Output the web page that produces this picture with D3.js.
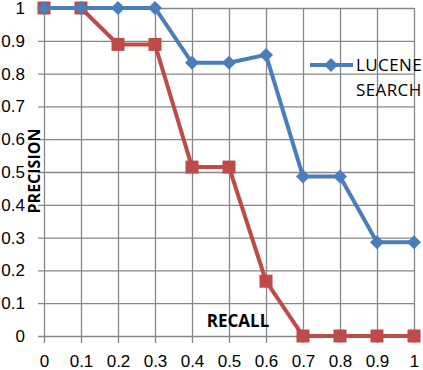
<!DOCTYPE html>
<html>
<head>
<meta charset="utf-8">
<script src="https://cdn.jsdelivr.net/npm/d3@7"></script>
<style>
  body { margin: 0; background: #fff; }
  svg { display: block; font-family: "Open Sans", sans-serif; }
</style>
</head>
<body>
<svg id="chart"></svg>
<script>
// recall values (x axis)
const recall = [0, 0.1, 0.2, 0.3, 0.4, 0.5, 0.6, 0.7, 0.8, 0.9, 1];
// precision for the two runs
const luceneSearch = [1, 1, 1, 1, 0.833, 0.833, 0.857, 0.486, 0.486, 0.286, 0.286];
const otherSearch = [1, 1, 0.889, 0.889, 0.515, 0.515, 0.167, 0, 0, 0, 0];
const tickValues = [0, 0.1, 0.2, 0.3, 0.4, 0.5, 0.6, 0.7, 0.8, 0.9, 1];

const W = 423, H = 370;
const margin = {top: 8, right: 9, bottom: 34, left: 44},
  width = W - margin.left - margin.right,
  height = H - margin.top - margin.bottom;

const svg = d3.select("#chart")
    .attr("width", W)
    .attr("height", H)
    .append("g")
    .attr("transform", `translate(${margin.left},${margin.top})`);

const x = d3.scaleLinear().domain([0, 1]).range([0, width]);
const y = d3.scaleLinear().domain([0, 1]).range([height, 0]);

const fmt = d => d === 0 ? "0" : d === 1 ? "1" : d3.format(".1f")(d);

// horizontal grid + y labels
const yAxis = svg.append("g")
    .attr("transform", "translate(-6,0)")
    .call(d3.axisLeft(y).tickValues(tickValues).tickFormat(fmt)
        .tickSize(-(width + 6)).tickPadding(13));

// vertical grid + x labels
const xAxis = svg.append("g")
    .attr("transform", `translate(0,${height + 7})`)
    .call(d3.axisBottom(x).tickValues(tickValues).tickFormat(fmt)
        .tickSize(-(height + 7)).tickPadding(12));

[yAxis, xAxis].forEach(a => {
    a.select(".domain").remove();
    a.selectAll(".tick line").attr("stroke", "#878787").attr("stroke-width", 1.3);
    a.selectAll(".tick text").attr("fill", "#000").style("font-size", "17px");
});

const line = d3.line()
    .x((d, i) => x(recall[i]))
    .y(d => y(d));

// red series
svg.append("path")
    .datum(otherSearch)
    .attr("d", line)
    .attr("fill", "none")
    .attr("stroke", "#be4b48")
    .attr("stroke-width", 4);

svg.selectAll(".sq")
    .data(otherSearch)
    .join("rect")
    .attr("class", "sq")
    .attr("x", (d, i) => x(recall[i]) - 6.5)
    .attr("y", d => y(d) - 6.5)
    .attr("width", 13)
    .attr("height", 13)
    .attr("fill", "#be4b48");

// blue series
svg.append("path")
    .datum(luceneSearch)
    .attr("d", line)
    .attr("fill", "none")
    .attr("stroke", "#4a7ebb")
    .attr("stroke-width", 4);

const diamond = "M0,-7L7,0L0,7L-7,0Z";

svg.selectAll(".dm")
    .data(luceneSearch)
    .join("path")
    .attr("class", "dm")
    .attr("transform", (d, i) => `translate(${x(recall[i])},${y(d)})`)
    .attr("d", diamond)
    .attr("fill", "#4a7ebb");

// legend
const legend = svg.append("g")
    .attr("transform", `translate(${310 - margin.left},${65 - margin.top})`);

legend.append("line")
    .attr("x1", 0).attr("x2", 43)
    .attr("stroke", "#4a7ebb")
    .attr("stroke-width", 4);

legend.append("path")
    .attr("transform", "translate(21,0)")
    .attr("d", diamond)
    .attr("fill", "#4a7ebb");

legend.append("text")
    .attr("x", 46)
    .attr("y", 6)
    .style("font-size", "17px")
    .style("letter-spacing", "0.4px")
    .text("LUCENE");

legend.append("text")
    .attr("x", 46)
    .attr("y", 31)
    .style("font-size", "17px")
    .style("letter-spacing", "0.4px")
    .text("SEARCH");

// axis titles
svg.append("text")
    .attr("transform", `translate(${40 - margin.left},${171 - margin.top}) rotate(-90)`)
    .attr("text-anchor", "middle")
    .style("font-size", "16px")
    .style("font-weight", "bold")
    .text("PRECISION");

svg.append("text")
    .attr("x", 238 - margin.left)
    .attr("y", 327 - margin.top)
    .attr("text-anchor", "middle")
    .style("font-size", "17px")
    .style("font-weight", "bold")
    .text("RECALL");
</script>
</body>
</html>
